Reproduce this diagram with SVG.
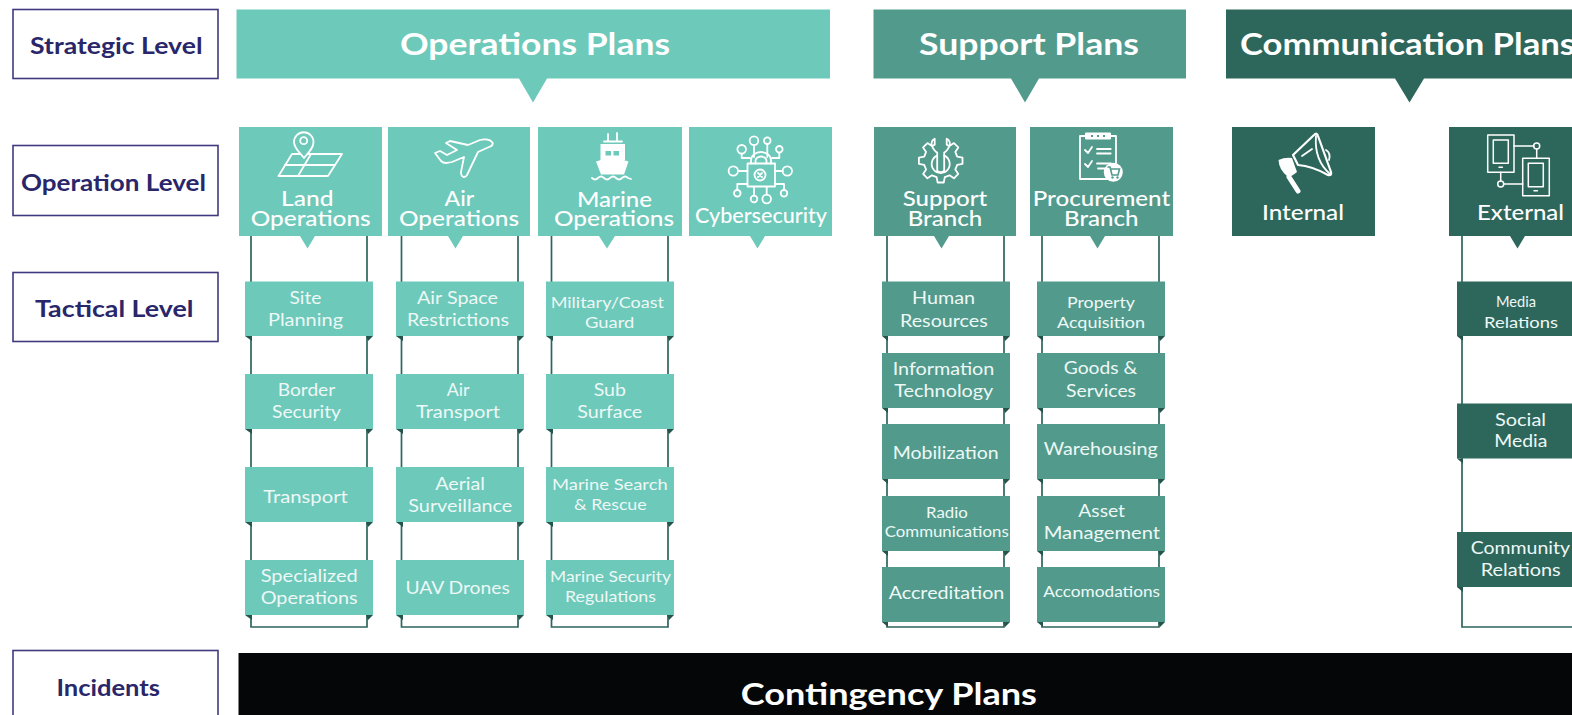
<svg xmlns="http://www.w3.org/2000/svg" width="1572" height="715" viewBox="0 0 1572 715">
<style>
text{font-family:"Lato","Noto Sans",sans-serif}
.lv{fill:#fff;stroke:#3f3a80;stroke-width:1.6}
.lt{fill:#29266a;font-size:22px;font-weight:700}
.h{fill:#fff;font-size:31px;font-weight:700}
.o{fill:#fff;font-size:21.5px;font-weight:500}
.t{fill:#eef8f6;font-size:17.5px}
.s{fill:#eef8f6;font-size:16px}
.a{fill:#6dc9ba}.b{fill:#529b8c}.c{fill:#2d675c}
.rail{fill:none;stroke:#2d665c;stroke-width:1.7}
.fold{fill:#24544c}
.i{fill:none;stroke:#fff;stroke-width:1.8;stroke-linejoin:round;stroke-linecap:round}
.w{fill:#fff}
</style>
<rect width="1572" height="715" fill="#fff"/>

<g id="connectors">
<path class="rail" d="M251,236V627H367V236"/>
<path class="rail" d="M401.500,236V627H518V236"/>
<path class="rail" d="M551.500,236V627H668V236"/>
<path class="rail" d="M887,236V627H1004V236"/>
<path class="rail" d="M1042,236V627H1159V236"/>
<path class="rail" d="M1462,236V627H1579"/>
<g class="fold">
<path d="M245,336h7v5zM366,336h7l-5,5zM245,429h7v5zM366,429h7l-5,5zM245,522h7v5zM366,522h7l-5,5zM245,615h7v5zM366,615h7l-5,5z"/>
<path d="M396,336h7v5zM517,336h7l-5,5zM396,429h7v5zM517,429h7l-5,5zM396,522h7v5zM517,522h7l-5,5zM396,615h7v5zM517,615h7l-5,5z"/>
<path d="M546,336h7v5zM667,336h7l-5,5zM546,429h7v5zM667,429h7l-5,5zM546,522h7v5zM667,522h7l-5,5zM546,615h7v5zM667,615h7l-5,5z"/>
<path d="M882,336h6v5zM1003,336h7l-5,5zM882,408h6v5zM1003,408h7l-5,5zM882,479h6v5zM1003,479h7l-5,5zM882,551h6v5zM1003,551h7l-5,5zM882,622h6v5zM1003,622h7l-5,5z"/>
<path d="M1037,336h6v5zM1158,336h7l-5,5zM1037,408h6v5zM1158,408h7l-5,5zM1037,479h6v5zM1158,479h7l-5,5zM1037,551h6v5zM1158,551h7l-5,5zM1037,622h6v5zM1158,622h7l-5,5z"/>
<path d="M1457,336h6v5zM1457,458.500h6v5zM1457,587h6v5z"/>
</g>
</g>

<g id="level-strategic"><rect class="lv" x="13" y="9.500" width="205" height="69"/><text class="lt" x="30" y="54" textLength="172.500" lengthAdjust="spacingAndGlyphs">Strategic Level</text></g>
<g id="level-operation"><rect class="lv" x="13" y="145.500" width="205" height="70"/><text class="lt" x="21" y="190.500" textLength="185" lengthAdjust="spacingAndGlyphs">Operation Level</text></g>
<g id="level-tactical"><rect class="lv" x="13" y="272.500" width="205" height="69"/><text class="lt" x="35" y="317" textLength="158.500" lengthAdjust="spacingAndGlyphs">Tactical Level</text></g>
<g id="level-incidents"><rect class="lv" x="13" y="650.500" width="205" height="70"/><text class="lt" x="56.500" y="695.500" textLength="103.500" lengthAdjust="spacingAndGlyphs">Incidents</text></g>

<g id="operations-plans"><path class="a" d="M236.500,9.500H830V78.500H547L533,102.500L519,78.500H236.500Z"/><text class="h" x="400" y="54.500" textLength="270" lengthAdjust="spacingAndGlyphs">Operations Plans</text></g>
<g id="support-plans"><path class="b" d="M873.500,9.500H1186V78.500H1039L1025,102.500L1011,78.500H873.500Z"/><text class="h" x="919" y="54.500" textLength="220" lengthAdjust="spacingAndGlyphs">Support Plans</text></g>
<g id="communication-plans"><path class="c" d="M1226,9.500H1572V78.500H1424L1409.500,102.500L1395,78.500H1226Z"/><text class="h" x="1240" y="54.500" textLength="335" lengthAdjust="spacingAndGlyphs">Communication Plans</text></g>

<g id="land-operations"><path class="a" d="M239,127H382V236H315L307.500,248.500L300,236H239Z"/>
<path class="i" d="M292,154H342L328,176H278.500Z"/><path class="i" d="M285,165H335M311,154L298,176"/>
<path class="i" style="fill:#6dc9ba" d="M304,158C299,152 294,148 294,142A9.700,9.700 0 0 1 313.500,142C313.500,148 309,152 304,158Z"/><circle class="i" cx="303.700" cy="140.700" r="3.500"/>
<text class="o" x="281" y="206" textLength="52.500" lengthAdjust="spacingAndGlyphs">Land</text><text class="o" x="250.700" y="226" textLength="120" lengthAdjust="spacingAndGlyphs">Operations</text></g>

<g id="air-operations"><path class="a" d="M388,127H530V236H463L455.500,248.500L448,236H388Z"/>
<path class="i" d="M492,142C490,139 484,139 480,140L468,145L450,141L446,143L457,150L447,155L440,151L435,153L441,161C444,164 448,163 452,162L464,157L461,172C461,178 465,178 467,175L478,152L489,147C492,146 494,144 492,142Z"/>
<text class="o" x="444.600" y="206" textLength="29.500" lengthAdjust="spacingAndGlyphs">Air</text><text class="o" x="399" y="226" textLength="120" lengthAdjust="spacingAndGlyphs">Operations</text></g>

<g id="marine-operations"><path class="a" d="M538,127H682V236H615L607,248.500L599,236H538Z"/>
<path class="i" d="M604,141.500H622M608,134V141M617,133V141"/>
<path class="w" d="M600.500,144H625V160H600.500Z"/><path class="a" d="M605.500,151H611V155.500H605.500ZM613.500,151H619V155.500H613.500Z"/>
<path class="w" d="M596,161.500Q612,155 628.500,161.500L624,174.500H601Z"/>
<path class="i" d="M592,178Q595,181 598,178T604,178T610,178T616,178T622,178T628,178L631,179"/>
<text class="o" x="577" y="206.500" textLength="75" lengthAdjust="spacingAndGlyphs">Marine</text><text class="o" x="554" y="226" textLength="120" lengthAdjust="spacingAndGlyphs">Operations</text></g>

<g id="cybersecurity"><path class="a" d="M689,127H832V236H765L757.500,248.500L750,236H689Z"/>
<rect class="i" x="747.500" y="163.500" width="27.500" height="23"/><path class="i" d="M751,163.500V160A10,8 0 0 1 771,160V163.500M755.500,163.500V161A5.500,4.500 0 0 1 766.500,161V163.500"/>
<circle class="i" cx="760" cy="175" r="5.500"/><path class="i" d="M758,173l4,4M762,173l-4,4"/>
<g class="i"><circle cx="754" cy="140.700" r="4.300"/><circle cx="767.300" cy="140.700" r="3.300"/><circle cx="741.700" cy="149.300" r="4.300"/><circle cx="779.300" cy="149.300" r="3.300"/><circle cx="733.300" cy="171" r="4.700"/><circle cx="787.300" cy="171" r="4.700"/><circle cx="737.300" cy="193.300" r="3.300"/><circle cx="754" cy="199" r="3.300"/><circle cx="766.700" cy="199" r="4.300"/><circle cx="784" cy="193.300" r="3.300"/>
<path d="M754,145V157M767.300,144V157M741.700,153.600V158H750M779.300,152.600V158H772M738,171H747.500M782.600,171H775M737.300,190V184H747.500M754,195.700V187M766.700,194.700V187M784,190V184H775"/></g>
<text class="o" style="font-size:20.500px" x="695" y="223" textLength="132" lengthAdjust="spacingAndGlyphs">Cybersecurity</text></g>

<g id="support-branch"><path class="b" d="M874,127H1016V236H949L941.500,248.500L934,236H874Z"/>
<g transform="translate(940.700 160.700)"><path class="i" d="M16.500,-4.100L21.800,-3.060L21.800,3.060L16.500,4.100L14.600,8.770L17.600,13.250L13.250,17.600L8.770,14.600L4.100,16.500L3.060,21.800L-3.060,21.800L-4.100,16.500L-8.770,14.600L-13.250,17.600L-17.600,13.250L-14.600,8.770L-16.500,4.100L-21.800,3.060L-21.800,-3.060L-16.500,-4.100L-14.600,-8.770L-17.600,-13.250L-13.250,-17.600L-8.770,-14.600L-6,-16V-22Q-10,-20 -9,-15Q-6,-9 -3.500,-8V10Q0,13 3.500,10V-8Q6,-9 9,-15Q10,-20 6,-22V-16L8.770,-14.600L13.250,-17.600L17.600,-13.250L14.600,-8.770Z"/><path class="i" d="M-3.500,-5A9,9 0 1 0 3.500,-5"/></g>
<text class="o" x="902.700" y="206" textLength="84.500" lengthAdjust="spacingAndGlyphs">Support</text><text class="o" x="907.700" y="226" textLength="74.500" lengthAdjust="spacingAndGlyphs">Branch</text></g>

<g id="procurement-branch"><path class="b" d="M1030,127H1173V236H1105L1097.500,248.500L1090,236H1030Z"/>
<rect class="i" x="1080" y="136" width="36" height="43"/><rect class="w" x="1085" y="132.500" width="26" height="7" rx="1"/>
<path class="b" d="M1091,135h2v2h-2zM1097,135h2v2h-2zM1103,135h2v2h-2z"/>
<path class="i" d="M1085,150L1088,153L1092,147M1085,164L1088,167L1092,161M1097,149H1110.700M1097,153.500H1110.700M1097,163.500H1111M1098,168.500H1107"/>
<circle class="w" cx="1113.300" cy="172.300" r="9.500"/><path fill="none" stroke="#529b8c" stroke-width="1.600" d="M1107.500,167H1110L1112,175H1118L1119.500,169H1110.500"/><circle class="b" cx="1112.500" cy="177.500" r="1.200"/><circle class="b" cx="1117.500" cy="177.500" r="1.200"/>
<text class="o" x="1032.700" y="206" textLength="137.500" lengthAdjust="spacingAndGlyphs">Procurement</text><text class="o" x="1064" y="226" textLength="74.500" lengthAdjust="spacingAndGlyphs">Branch</text></g>

<g id="internal"><rect class="c" x="1232" y="127" width="143" height="109"/>
<path class="i" style="stroke-width:2.200" d="M1293,155L1314,135Q1317,132 1318,136L1331,172Q1332,176 1328,175Q1312,166 1298,165Z"/><path class="i" d="M1316,136Q1314,160 1330,174"/><path class="i" d="M1302,156L1312,149"/><path class="i" d="M1326,150Q1331,153 1329,160"/>
<path class="w" d="M1278.500,160Q1285,157 1292,158L1297,172Q1291,177 1288,177Q1279,170 1278.500,160Z"/><path class="i" style="stroke-width:5" d="M1289,177L1298,191"/>
<text class="o" x="1262" y="220" textLength="82" lengthAdjust="spacingAndGlyphs">Internal</text></g>

<g id="external"><path class="c" d="M1449,127H1572V236H1525L1517.500,248.500L1510,236H1449Z"/>
<g class="i" style="stroke-width:1.500"><rect x="1487.700" y="135" width="26.300" height="37.300"/><rect x="1493.300" y="140" width="15" height="23.300"/><rect x="1522.700" y="158.300" width="26.600" height="37.400"/><rect x="1528.300" y="163.300" width="15" height="23.400"/><circle cx="1536.700" cy="146" r="3"/><circle cx="1500.700" cy="184" r="3"/><path d="M1514,146H1533.700M1536.700,149V158.300M1500.700,172.300V181M1503.700,184H1522.700M1499,167.300H1502.400M1534,190.700H1537.400"/></g>
<text class="o" x="1477" y="220" textLength="87" lengthAdjust="spacingAndGlyphs">External</text></g>

<g id="site-planning"><rect class="a" x="245" y="281.500" width="128" height="54.500"/><text class="t" x="289.500" y="304" textLength="32" lengthAdjust="spacingAndGlyphs">Site</text><text class="t" x="268" y="326.300" textLength="75" lengthAdjust="spacingAndGlyphs">Planning</text></g>
<g id="border-security"><rect class="a" x="245" y="374" width="128" height="55"/><text class="t" x="277.700" y="396" textLength="57.500" lengthAdjust="spacingAndGlyphs">Border</text><text class="t" x="272" y="418" textLength="69" lengthAdjust="spacingAndGlyphs">Security</text></g>
<g id="transport"><rect class="a" x="245" y="467" width="128" height="55"/><text class="t" x="263.300" y="502.500" textLength="84.500" lengthAdjust="spacingAndGlyphs">Transport</text></g>
<g id="specialized-operations"><rect class="a" x="245" y="560" width="128" height="55"/><text class="t" x="260.700" y="581.500" textLength="97" lengthAdjust="spacingAndGlyphs">Specialized</text><text class="t" x="260.700" y="603.500" textLength="97" lengthAdjust="spacingAndGlyphs">Operations</text></g>

<g id="air-space"><rect class="a" x="396" y="281.500" width="128" height="54.500"/><text class="t" x="417" y="304" textLength="81" lengthAdjust="spacingAndGlyphs">Air Space</text><text class="t" x="407" y="326.300" textLength="102" lengthAdjust="spacingAndGlyphs">Restrictions</text></g>
<g id="air-transport"><rect class="a" x="396" y="374" width="128" height="55"/><text class="t" x="446.700" y="396" textLength="22.700" lengthAdjust="spacingAndGlyphs">Air</text><text class="t" x="416" y="418" textLength="84" lengthAdjust="spacingAndGlyphs">Transport</text></g>
<g id="aerial-surveillance"><rect class="a" x="396" y="467" width="128" height="55"/><text class="t" x="435.300" y="490" textLength="49.700" lengthAdjust="spacingAndGlyphs">Aerial</text><text class="t" x="408.300" y="511.700" textLength="104" lengthAdjust="spacingAndGlyphs">Surveillance</text></g>
<g id="uav-drones"><rect class="a" x="396" y="560" width="128" height="55"/><text class="t" x="405.400" y="593.500" textLength="104.400" lengthAdjust="spacingAndGlyphs">UAV Drones</text></g>

<g id="military-coast-guard"><rect class="a" x="546" y="281.500" width="128" height="54.500"/><text class="s" x="550.700" y="308" textLength="113.300" lengthAdjust="spacingAndGlyphs">Military/Coast</text><text class="s" x="585" y="327.700" textLength="49.300" lengthAdjust="spacingAndGlyphs">Guard</text></g>
<g id="sub-surface"><rect class="a" x="546" y="374" width="128" height="55"/><text class="t" x="593.700" y="396" textLength="32.300" lengthAdjust="spacingAndGlyphs">Sub</text><text class="t" x="577.300" y="418" textLength="65" lengthAdjust="spacingAndGlyphs">Surface</text></g>
<g id="marine-search"><rect class="a" x="546" y="467" width="128" height="55"/><text class="s" x="552" y="490" textLength="115.700" lengthAdjust="spacingAndGlyphs">Marine Search</text><text class="s" x="574" y="510" textLength="72.700" lengthAdjust="spacingAndGlyphs">&amp; Rescue</text></g>
<g id="marine-security"><rect class="a" x="546" y="560" width="128" height="55"/><text class="s" x="550" y="582.300" textLength="121" lengthAdjust="spacingAndGlyphs">Marine Security</text><text class="s" x="565" y="601.500" textLength="91" lengthAdjust="spacingAndGlyphs">Regulations</text></g>

<g id="human-resources"><rect class="b" x="882" y="281.500" width="128" height="54.500"/><text class="t" x="912" y="304.300" textLength="63" lengthAdjust="spacingAndGlyphs">Human</text><text class="t" x="900" y="326.500" textLength="87.700" lengthAdjust="spacingAndGlyphs">Resources</text></g>
<g id="information-technology"><rect class="b" x="882" y="353" width="128" height="55"/><text class="t" x="892.700" y="375" textLength="101.600" lengthAdjust="spacingAndGlyphs">Information</text><text class="t" x="894.300" y="396.700" textLength="99" lengthAdjust="spacingAndGlyphs">Technology</text></g>
<g id="mobilization"><rect class="b" x="882" y="424" width="128" height="55"/><text class="t" x="892.700" y="458.500" textLength="106" lengthAdjust="spacingAndGlyphs">Mobilization</text></g>
<g id="radio-communications"><rect class="b" x="882" y="496" width="128" height="55"/><text class="s" style="font-size:14.500px" x="926" y="518.300" textLength="41.700" lengthAdjust="spacingAndGlyphs">Radio</text><text class="s" style="font-size:14.500px" x="884.700" y="536.700" textLength="124" lengthAdjust="spacingAndGlyphs">Communications</text></g>
<g id="accreditation"><rect class="b" x="882" y="567" width="128" height="55"/><text class="t" x="888.700" y="599.300" textLength="115.600" lengthAdjust="spacingAndGlyphs">Accreditation</text></g>

<g id="property-acquisition"><rect class="b" x="1037" y="281.500" width="128" height="54.500"/><text class="s" x="1067" y="307.700" textLength="68" lengthAdjust="spacingAndGlyphs">Property</text><text class="s" x="1057" y="327.700" textLength="88" lengthAdjust="spacingAndGlyphs">Acquisition</text></g>
<g id="goods-services"><rect class="b" x="1037" y="353" width="128" height="55"/><text class="t" x="1063.700" y="374.300" textLength="73.600" lengthAdjust="spacingAndGlyphs">Goods &amp;</text><text class="t" x="1066" y="396.700" textLength="70" lengthAdjust="spacingAndGlyphs">Services</text></g>
<g id="warehousing"><rect class="b" x="1037" y="424" width="128" height="55"/><text class="t" x="1043.700" y="455" textLength="114" lengthAdjust="spacingAndGlyphs">Warehousing</text></g>
<g id="asset-management"><rect class="b" x="1037" y="496" width="128" height="55"/><text class="t" x="1078.300" y="517.300" textLength="46.700" lengthAdjust="spacingAndGlyphs">Asset</text><text class="t" x="1043.700" y="539" textLength="116.300" lengthAdjust="spacingAndGlyphs">Management</text></g>
<g id="accomodations"><rect class="b" x="1037" y="567" width="128" height="55"/><text class="s" x="1043.300" y="597.300" textLength="116.700" lengthAdjust="spacingAndGlyphs">Accomodations</text></g>

<g id="media-relations"><rect class="c" x="1457" y="281.500" width="115" height="54.500"/><text class="s" x="1496" y="307.300" textLength="40" lengthAdjust="spacingAndGlyphs">Media</text><text class="s" x="1484" y="328" textLength="74" lengthAdjust="spacingAndGlyphs">Relations</text></g>
<g id="social-media"><rect class="c" x="1457" y="403.500" width="115" height="55"/><text class="t" x="1495" y="426" textLength="51" lengthAdjust="spacingAndGlyphs">Social</text><text class="t" x="1494.300" y="447.300" textLength="53" lengthAdjust="spacingAndGlyphs">Media</text></g>
<g id="community-relations"><rect class="c" x="1457" y="532" width="115" height="55"/><text class="t" x="1470.700" y="554" textLength="99.300" lengthAdjust="spacingAndGlyphs">Community</text><text class="t" x="1480.700" y="576" textLength="80" lengthAdjust="spacingAndGlyphs">Relations</text></g>

<g id="contingency-plans"><rect x="238.500" y="653" width="1334" height="62" fill="#050608"/><text class="h" x="740.700" y="704.500" textLength="296.300" lengthAdjust="spacingAndGlyphs">Contingency Plans</text></g>
</svg>
